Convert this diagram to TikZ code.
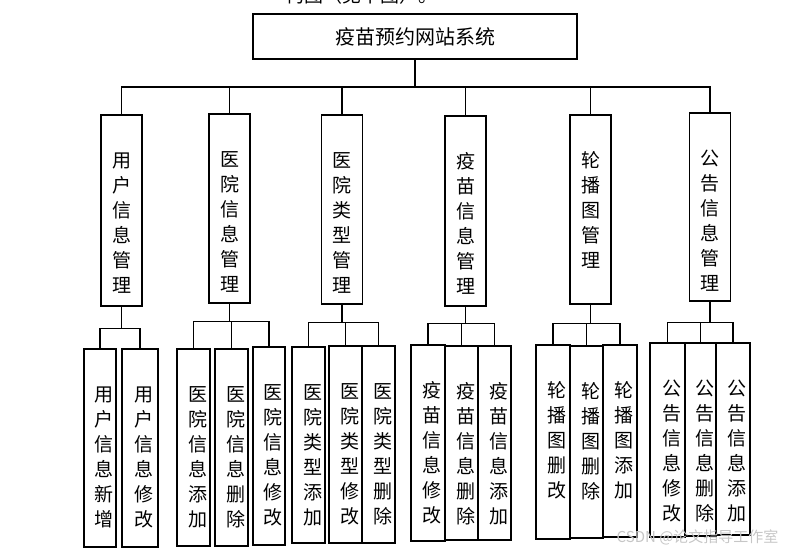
\documentclass[tikz,border=0pt]{standalone}
\usepackage{fontspec}
\newfontfamily\cjk{Noto Sans CJK SC}
\usepackage{xcolor}
\usetikzlibrary{positioning}

% vertical column of characters, top aligned: #1 box height, #2 left shift, #3 text
\newcommand{\vcol}[3]{%
  \parbox[c][#1][t]{30pt}{\cjk\fontsize{19}{25}\selectfont\centering
    \leftskip=#2 plus 1fil\relax\vspace*{35pt}\strut#3}}

\begin{document}
\begin{tikzpicture}[x=1pt, y=-1pt, line width=1.1pt,
  rootbox/.style={draw, minimum width=324, minimum height=45, inner sep=0,
    font=\cjk\fontsize{20}{24}\selectfont},
  modbox/.style={draw, minimum width=41, inner sep=0},
  funbox/.style={draw, minimum width=33, inner sep=0},
]
  \useasboundingbox (0,0) rectangle (786,551);
  \begin{scope}
    \clip (0,0) rectangle (786,551);
    \node[anchor=base west, inner sep=0, font=\cjk\fontsize{19}{24}\selectfont] (caption) at (285,2.5) {构图（见下图）。};
  \end{scope}

  \node[rootbox] (root) at (415,36.5) {疫苗预约网站系统};
  \coordinate (bus) at (0,87);

  % second level
  \node[modbox] (user)   at (121.5,210.5) {\vcol{191pt}{0pt}{用\\户\\信\\息\\管\\理}};
  \node[modbox] (hosp)   at (229.5,208.5) {\vcol{189pt}{0pt}{医\\院\\信\\息\\管\\理}};
  \node[modbox] (htype)  at (342,209.5)   {\vcol{189pt}{0pt}{医\\院\\类\\型\\管\\理}};
  \node[modbox] (vacc)   at (465.5,211)   {\vcol{190pt}{0pt}{疫\\苗\\信\\息\\管\\理}};
  \node[modbox] (slide)  at (590.5,209.5) {\vcol{189pt}{0pt}{轮\\播\\图\\管\\理}};
  \node[modbox] (notice) at (710,207)     {\vcol{188pt}{0pt}{公\\告\\信\\息\\管\\理}};

  % third level
  \node[funbox, minimum width=32] (user-new)  at (100,448)   {\vcol{198pt}{8pt}{用\\户\\信\\息\\新\\增}};
  \node[funbox, minimum width=36] (user-edit) at (140,448)   {\vcol{198pt}{8pt}{用\\户\\信\\息\\修\\改}};
  \node[funbox] (hosp-add)   at (193.5,447.5) {\vcol{197pt}{8pt}{医\\院\\信\\息\\添\\加}};
  \node[funbox] (hosp-del)   at (231.5,447.5) {\vcol{197pt}{8pt}{医\\院\\信\\息\\删\\除}};
  \node[funbox, minimum width=32] (hosp-edit) at (269,446) {\vcol{198pt}{8pt}{医\\院\\信\\息\\修\\改}};
  \node[funbox] (htype-add)  at (308.5,445)   {\vcol{196pt}{8pt}{医\\院\\类\\型\\添\\加}};
  \node[funbox] (htype-edit) at (345.5,444.5) {\vcol{197pt}{8pt}{医\\院\\类\\型\\修\\改}};
  \node[funbox] (htype-del)  at (378.5,444.5) {\vcol{197pt}{8pt}{医\\院\\类\\型\\删\\除}};
  \node[funbox, minimum width=34] (vacc-edit) at (428,443) {\vcol{196pt}{8pt}{疫\\苗\\信\\息\\修\\改}};
  \node[funbox] (vacc-del)   at (461.5,443)   {\vcol{194pt}{8pt}{疫\\苗\\信\\息\\删\\除}};
  \node[funbox] (vacc-add)   at (494.5,443)   {\vcol{194pt}{8pt}{疫\\苗\\信\\息\\添\\加}};
  \node[funbox, minimum width=34] (slide-edit) at (553,442) {\vcol{194pt}{8pt}{轮\\播\\图\\删\\改}};
  \node[funbox] (slide-del)  at (586.5,442)   {\vcol{192pt}{8pt}{轮\\播\\图\\删\\除}};
  \node[funbox, minimum width=34] (slide-add) at (620,441) {\vcol{192pt}{8pt}{轮\\播\\图\\添\\加}};
  \node[funbox, minimum width=35] (notice-edit) at (667.5,440) {\vcol{194pt}{8pt}{公\\告\\信\\息\\修\\改}};
  \node[funbox, minimum width=31] (notice-del)  at (700.5,439.5) {\vcol{193pt}{8pt}{公\\告\\信\\息\\删\\除}};
  \node[funbox, minimum width=34] (notice-add)  at (733,439) {\vcol{192pt}{8pt}{公\\告\\信\\息\\添\\加}};

  % root to modules
  \draw (root.south) -- (root.south |- bus) -| (user.north);
  \draw (root.south) -- (root.south |- bus) -| (hosp.north);
  \draw (root.south) -- (root.south |- bus) -| (htype.north);
  \draw (root.south) -- (root.south |- bus) -| (vacc.north);
  \draw (root.south) -- (root.south |- bus) -| (slide.north);
  \draw (root.south) -- (root.south |- bus) -| (notice.north);

  % modules to functions
  \draw (user.south) -- ++(0,22) -| (user-new.north);
  \draw (user.south) -- ++(0,22) -| (user-edit.north);
  \draw (hosp.south) -- ++(0,18) -| (hosp-add.north);
  \draw (hosp.south) -- ++(0,18) -| (hosp-del.north);
  \draw (hosp.south) -- ++(0,18) -| (hosp-edit.north);
  \draw (htype.south) -- ++(0,18) -| (htype-add.north);
  \draw (htype.south) -- ++(0,18) -| (htype-edit.north);
  \draw (htype.south) -- ++(0,18) -| (htype-del.north);
  \draw (vacc.south) -- ++(0,17) -| (vacc-edit.north);
  \draw (vacc.south) -- ++(0,17) -| (vacc-del.north);
  \draw (vacc.south) -- ++(0,17) -| (vacc-add.north);
  \draw (slide.south) -- ++(0,19) -| (slide-edit.north);
  \draw (slide.south) -- ++(0,19) -| (slide-del.north);
  \draw (slide.south) -- ++(0,19) -| (slide-add.north);
  \draw (notice.south) -- ++(0,21) -| (notice-edit.north);
  \draw (notice.south) -- ++(0,21) -| (notice-del.north);
  \draw (notice.south) -- ++(0,21) -| (notice-add.north);

  \node[anchor=east, inner sep=0, text=gray!45, font=\cjk\fontsize{15}{18}\selectfont] (mark) at (779,537) {CSDN @论文指导工作室};
\end{tikzpicture}
\end{document}
